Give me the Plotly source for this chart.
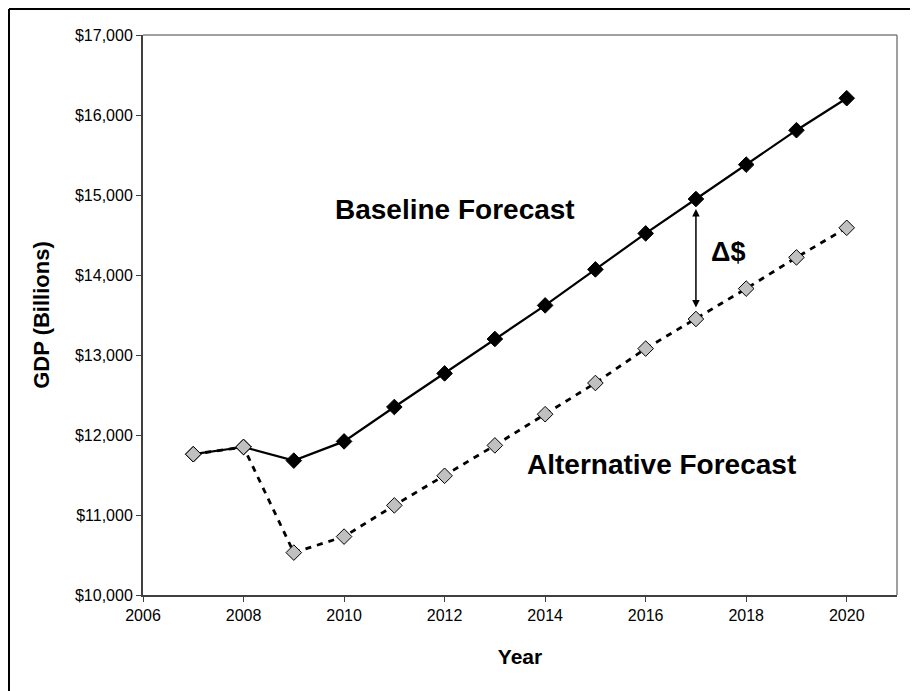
import plotly.graph_objects as go

years = [2007, 2008, 2009, 2010, 2011, 2012, 2013, 2014, 2015, 2016, 2017, 2018, 2019, 2020]
baseline = [11760, 11850, 11680, 11920, 12350, 12770, 13200, 13620, 14070, 14520, 14950, 15380, 15810, 16210]
alternative = [11760, 11850, 10530, 10730, 11120, 11490, 11870, 12260, 12650, 13080, 13450, 13830, 14220, 14590]

FONT = "Liberation Sans, Arial, sans-serif"

fig = go.Figure()
fig.add_trace(go.Scatter(
    x=years, y=baseline, mode="lines+markers", name="Baseline",
    line=dict(color="black", width=2.2),
    marker=dict(symbol="diamond", size=12, color="black", line=dict(color="black", width=1)),
))
fig.add_trace(go.Scatter(
    x=years, y=alternative, mode="lines+markers", name="Alternative",
    line=dict(color="black", width=2.8, dash="6px,6px"),
    marker=dict(symbol="diamond", size=12, color="#C0C0C0", line=dict(color="black", width=1)),
))

# page has an 8px body margin; compensate so the plot lands where the reference has it
W, H = 910, 683
L, R, T, B = 135, 21, 27, 96
pw, ph = W - L - R, H - T - B

def px(xp):
    return (xp - L) / pw

def py(yp):
    return (H - B - yp) / ph

fig.update_layout(
    width=W, height=H,
    margin=dict(l=L, r=R, t=T, b=B),
    paper_bgcolor="white", plot_bgcolor="white",
    showlegend=False,
    font=dict(family=FONT, color="black", size=16),
    xaxis=dict(
        range=[2006, 2021], tick0=2006, dtick=2, showgrid=False, zeroline=False,
        showline=True, linecolor="#404040", linewidth=2,
        ticks="outside", ticklen=5, tickcolor="#404040", tickwidth=1,
        tickfont=dict(family=FONT, size=16),
        title=dict(text="<b>Year</b>", font=dict(family=FONT, size=21), standoff=26),
    ),
    yaxis=dict(
        range=[10000, 17000], dtick=1000, showgrid=False, zeroline=False,
        showline=True, linecolor="#404040", linewidth=2,
        ticks="outside", ticklen=5, tickcolor="#404040", tickwidth=1,
        tickprefix="$", tickformat=",",
        tickfont=dict(family=FONT, size=16),
        title=dict(text="<b>GDP (Billions)</b>", font=dict(family=FONT, size=22), standoff=19),
    ),
    shapes=[
        dict(type="line", xref="paper", yref="paper", x0=0, x1=1, y0=1, y1=1,
             line=dict(color="#808080", width=1.5)),
        dict(type="line", xref="paper", yref="paper", x0=1, x1=1, y0=0, y1=1,
             line=dict(color="#808080", width=1.5)),
        dict(type="line", xref="paper", yref="paper", x0=px(1), x1=px(W + 5), y0=py(1), y1=py(1),
             line=dict(color="black", width=2)),
        dict(type="line", xref="paper", yref="paper", x0=px(1), x1=px(1), y0=py(1), y1=py(H + 5),
             line=dict(color="black", width=2)),
    ],
    annotations=[
        dict(x=2012.2, y=14820, xref="x", yref="y", text="<b>Baseline Forecast</b>",
             showarrow=False, font=dict(family=FONT, size=28)),
        dict(x=2016.32, y=11635, xref="x", yref="y", text="<b>Alternative Forecast</b>",
             showarrow=False, font=dict(family=FONT, size=28)),
        dict(x=2017.64, y=14286, xref="x", yref="y", text="<b>Δ$</b>",
             showarrow=False, font=dict(family=FONT, size=27)),
        dict(x=2017, y=14950, ax=2017, ay=13450, xref="x", yref="y", axref="x", ayref="y",
             text="", showarrow=True, arrowhead=2, arrowside="end+start", arrowsize=1,
             arrowwidth=1.5, arrowcolor="black", standoff=10, startstandoff=10),
    ],
)

fig.write_html("out.html")
